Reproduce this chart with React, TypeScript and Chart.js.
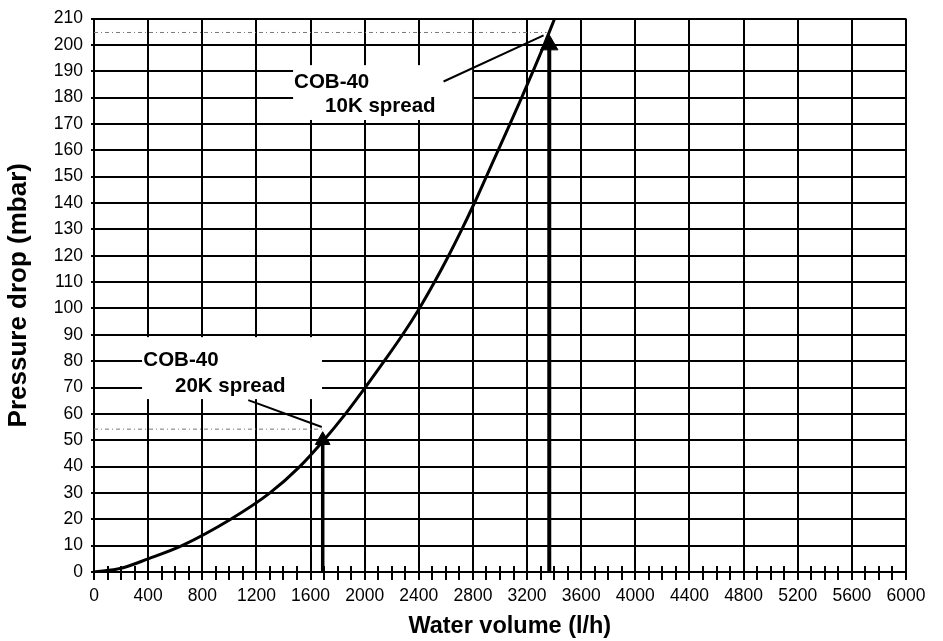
import React, { useEffect, useRef } from 'react';
import { Chart, registerables } from 'chart.js';

Chart.register(...registerables);

// ---- data ----
const flowLh = [0, 200, 400, 650, 1010, 1300, 1520, 1698, 1858, 2004, 2144, 2280, 2404, 2516, 2620, 2718, 2811, 2899, 2986, 3074, 3160, 3244, 3326, 3404];
const pressureMbar = [0, 1.4, 5, 10, 20, 30, 40, 50, 60, 70, 80, 90, 100, 110, 120, 130, 140, 150, 160, 170, 180, 190, 200, 210];

const xMin = 0;
const xMax = 6000;
const xMinorStep = 100;
const xLabelStep = 400;
const yMin = 0;
const yMax = 210;
const yStep = 10;

const arrow20K = [{ x: 1690, y: 0 }, { x: 1690, y: 50 }];
const arrow10K = [{ x: 3364, y: 0 }, { x: 3364, y: 200 }];
const guide20K = [{ x: 0, y: 54.2 }, { x: 1683, y: 54.2 }];
const guide10K = [{ x: 0, y: 204.7 }, { x: 3345, y: 204.7 }];
const leader20K = [{ x: 1140, y: 65.2 }, { x: 1683, y: 55 }];
const leader10K = [{ x: 2583, y: 186.1 }, { x: 3322, y: 203.6 }];

const label10KLines = ['COB-40', '10K spread'];
const label10KBox = { x0: 1471, x1: 2794, y0: 192.3, y1: 171.5 };
const label20KLines = ['COB-40', '20K spread'];
const label20KBox = { x0: 355, x1: 1685, y0: 89.1, y1: 65.6 };

const xTitle = 'Water volume (l/h)';
const yTitle = 'Pressure drop (mbar)';

// ---- styles ----
const FONT = "'Liberation Sans', Arial, Helvetica, sans-serif";
const labelStyles = [
  { lines: label10KLines, box: label10KBox, offsets: [{ dx: 1, dy: 22.7 }, { dx: 32, dy: 47 }] },
  { lines: label20KLines, box: label20KBox, offsets: [{ dx: 1.3, dy: 29 }, { dx: 33, dy: 54.7 }] },
];

const annotationPlugin = {
  id: 'cobAnnotations',
  beforeDatasetsDraw(chart: any) {
    const { ctx, scales } = chart;
    const xs = scales.x;
    const ys = scales.y;
    ctx.save();
    // minor tick marks crossing into the plot
    ctx.strokeStyle = '#000';
    ctx.lineWidth = 2;
    const bottom = chart.chartArea.bottom;
    for (const t of xs.ticks) {
      const px = Math.round(xs.getPixelForValue(t.value));
      ctx.beginPath();
      ctx.moveTo(px, bottom - 6);
      ctx.lineTo(px, bottom);
      ctx.stroke();
    }
    // label boxes
    for (const l of labelStyles) {
      const left = xs.getPixelForValue(l.box.x0);
      const right = xs.getPixelForValue(l.box.x1);
      const top = ys.getPixelForValue(l.box.y0);
      const bot = ys.getPixelForValue(l.box.y1);
      ctx.fillStyle = '#fff';
      ctx.fillRect(left, top, right - left, bot - top);
      ctx.fillStyle = '#000';
      ctx.font = `bold 20.5px ${FONT}`;
      ctx.textAlign = 'left';
      ctx.textBaseline = 'alphabetic';
      l.lines.forEach((line, i) => {
        ctx.fillText(line, left + l.offsets[i].dx, top + l.offsets[i].dy);
      });
    }
    ctx.restore();
  },
};

export default function App() {
  const canvasRef = useRef<HTMLCanvasElement | null>(null);

  useEffect(() => {
    if (!canvasRef.current) return;
    const curve = flowLh.map((q, i) => ({ x: q, y: pressureMbar[i] }));
    const chart = new Chart(canvasRef.current, {
      type: 'line',
      data: {
        datasets: [
          {
            data: curve,
            borderColor: '#000',
            borderWidth: 3,
            pointRadius: 0,
            cubicInterpolationMode: 'monotone',
            fill: false,
          },
          {
            data: arrow20K,
            borderColor: '#000',
            backgroundColor: '#000',
            borderWidth: 3.5,
            pointStyle: 'triangle',
            pointRadius: [0, 8.5],
            pointBorderWidth: 1,
            pointBackgroundColor: '#000',
            pointBorderColor: '#000',
          },
          {
            data: arrow10K,
            borderColor: '#000',
            backgroundColor: '#000',
            borderWidth: 4,
            pointStyle: 'triangle',
            pointRadius: [0, 10],
            pointBorderWidth: 1,
            pointBackgroundColor: '#000',
            pointBorderColor: '#000',
          },
          { data: leader20K, borderColor: '#000', borderWidth: 2, pointRadius: 0 },
          { data: leader10K, borderColor: '#000', borderWidth: 2, pointRadius: 0 },
          { data: guide20K, borderColor: '#777', borderWidth: 1, borderDash: [4, 3, 1, 3], pointRadius: 0 },
          { data: guide10K, borderColor: '#777', borderWidth: 1, borderDash: [4, 3, 1, 3], pointRadius: 0 },
        ] as any,
      },
      options: {
        animation: false,
        responsive: true,
        maintainAspectRatio: false,
        layout: { padding: { top: 16, right: 37, left: 0, bottom: 0 } },
        plugins: { legend: { display: false }, tooltip: { enabled: false } },
        scales: {
          x: {
            type: 'linear',
            min: xMin,
            max: xMax,
            afterFit: (s: any) => { s.height = 69; },
            border: { color: '#000', width: 2 },
            grid: {
              color: (c: any) => (c.tick && c.tick.value % xLabelStep === 0 ? '#000' : 'rgba(0,0,0,0)'),
              lineWidth: 2,
              tickColor: '#000',
              tickWidth: 2,
              tickLength: 8,
            },
            ticks: {
              stepSize: xMinorStep,
              autoSkip: false,
              maxRotation: 0,
              minRotation: 0,
              color: '#000',
              padding: 6,
              font: { family: FONT, size: 17.5 },
              callback: (v: any) => (Number(v) % xLabelStep === 0 ? String(v) : ''),
            },
            title: {
              display: true,
              text: '   ' + xTitle,
              color: '#000',
              font: { family: FONT, size: 23.5, weight: 'bold' },
              padding: { top: 0, bottom: 0 },
            },
          },
          y: {
            type: 'linear',
            min: yMin,
            max: yMax,
            afterFit: (s: any) => { s.width = 94; },
            border: { color: '#000', width: 2 },
            grid: { color: '#000', lineWidth: 2, tickLength: 3, tickColor: '#000' },
            ticks: {
              stepSize: yStep,
              autoSkip: false,
              color: '#000',
              padding: 8,
              font: { family: FONT, size: 17.5 },
            },
            title: {
              display: true,
              text: yTitle,
              color: '#000',
              font: { family: FONT, size: 26, weight: 'bold' },
              padding: { top: 3, bottom: 0 },
            },
          },
        },
      } as any,
      plugins: [annotationPlugin],
    });
    return () => chart.destroy();
  }, []);

  return (
    <div style={{ position: 'absolute', left: 0, top: 0, width: 943, height: 641, background: '#fff' }}>
      <canvas ref={canvasRef} />
    </div>
  );
}
